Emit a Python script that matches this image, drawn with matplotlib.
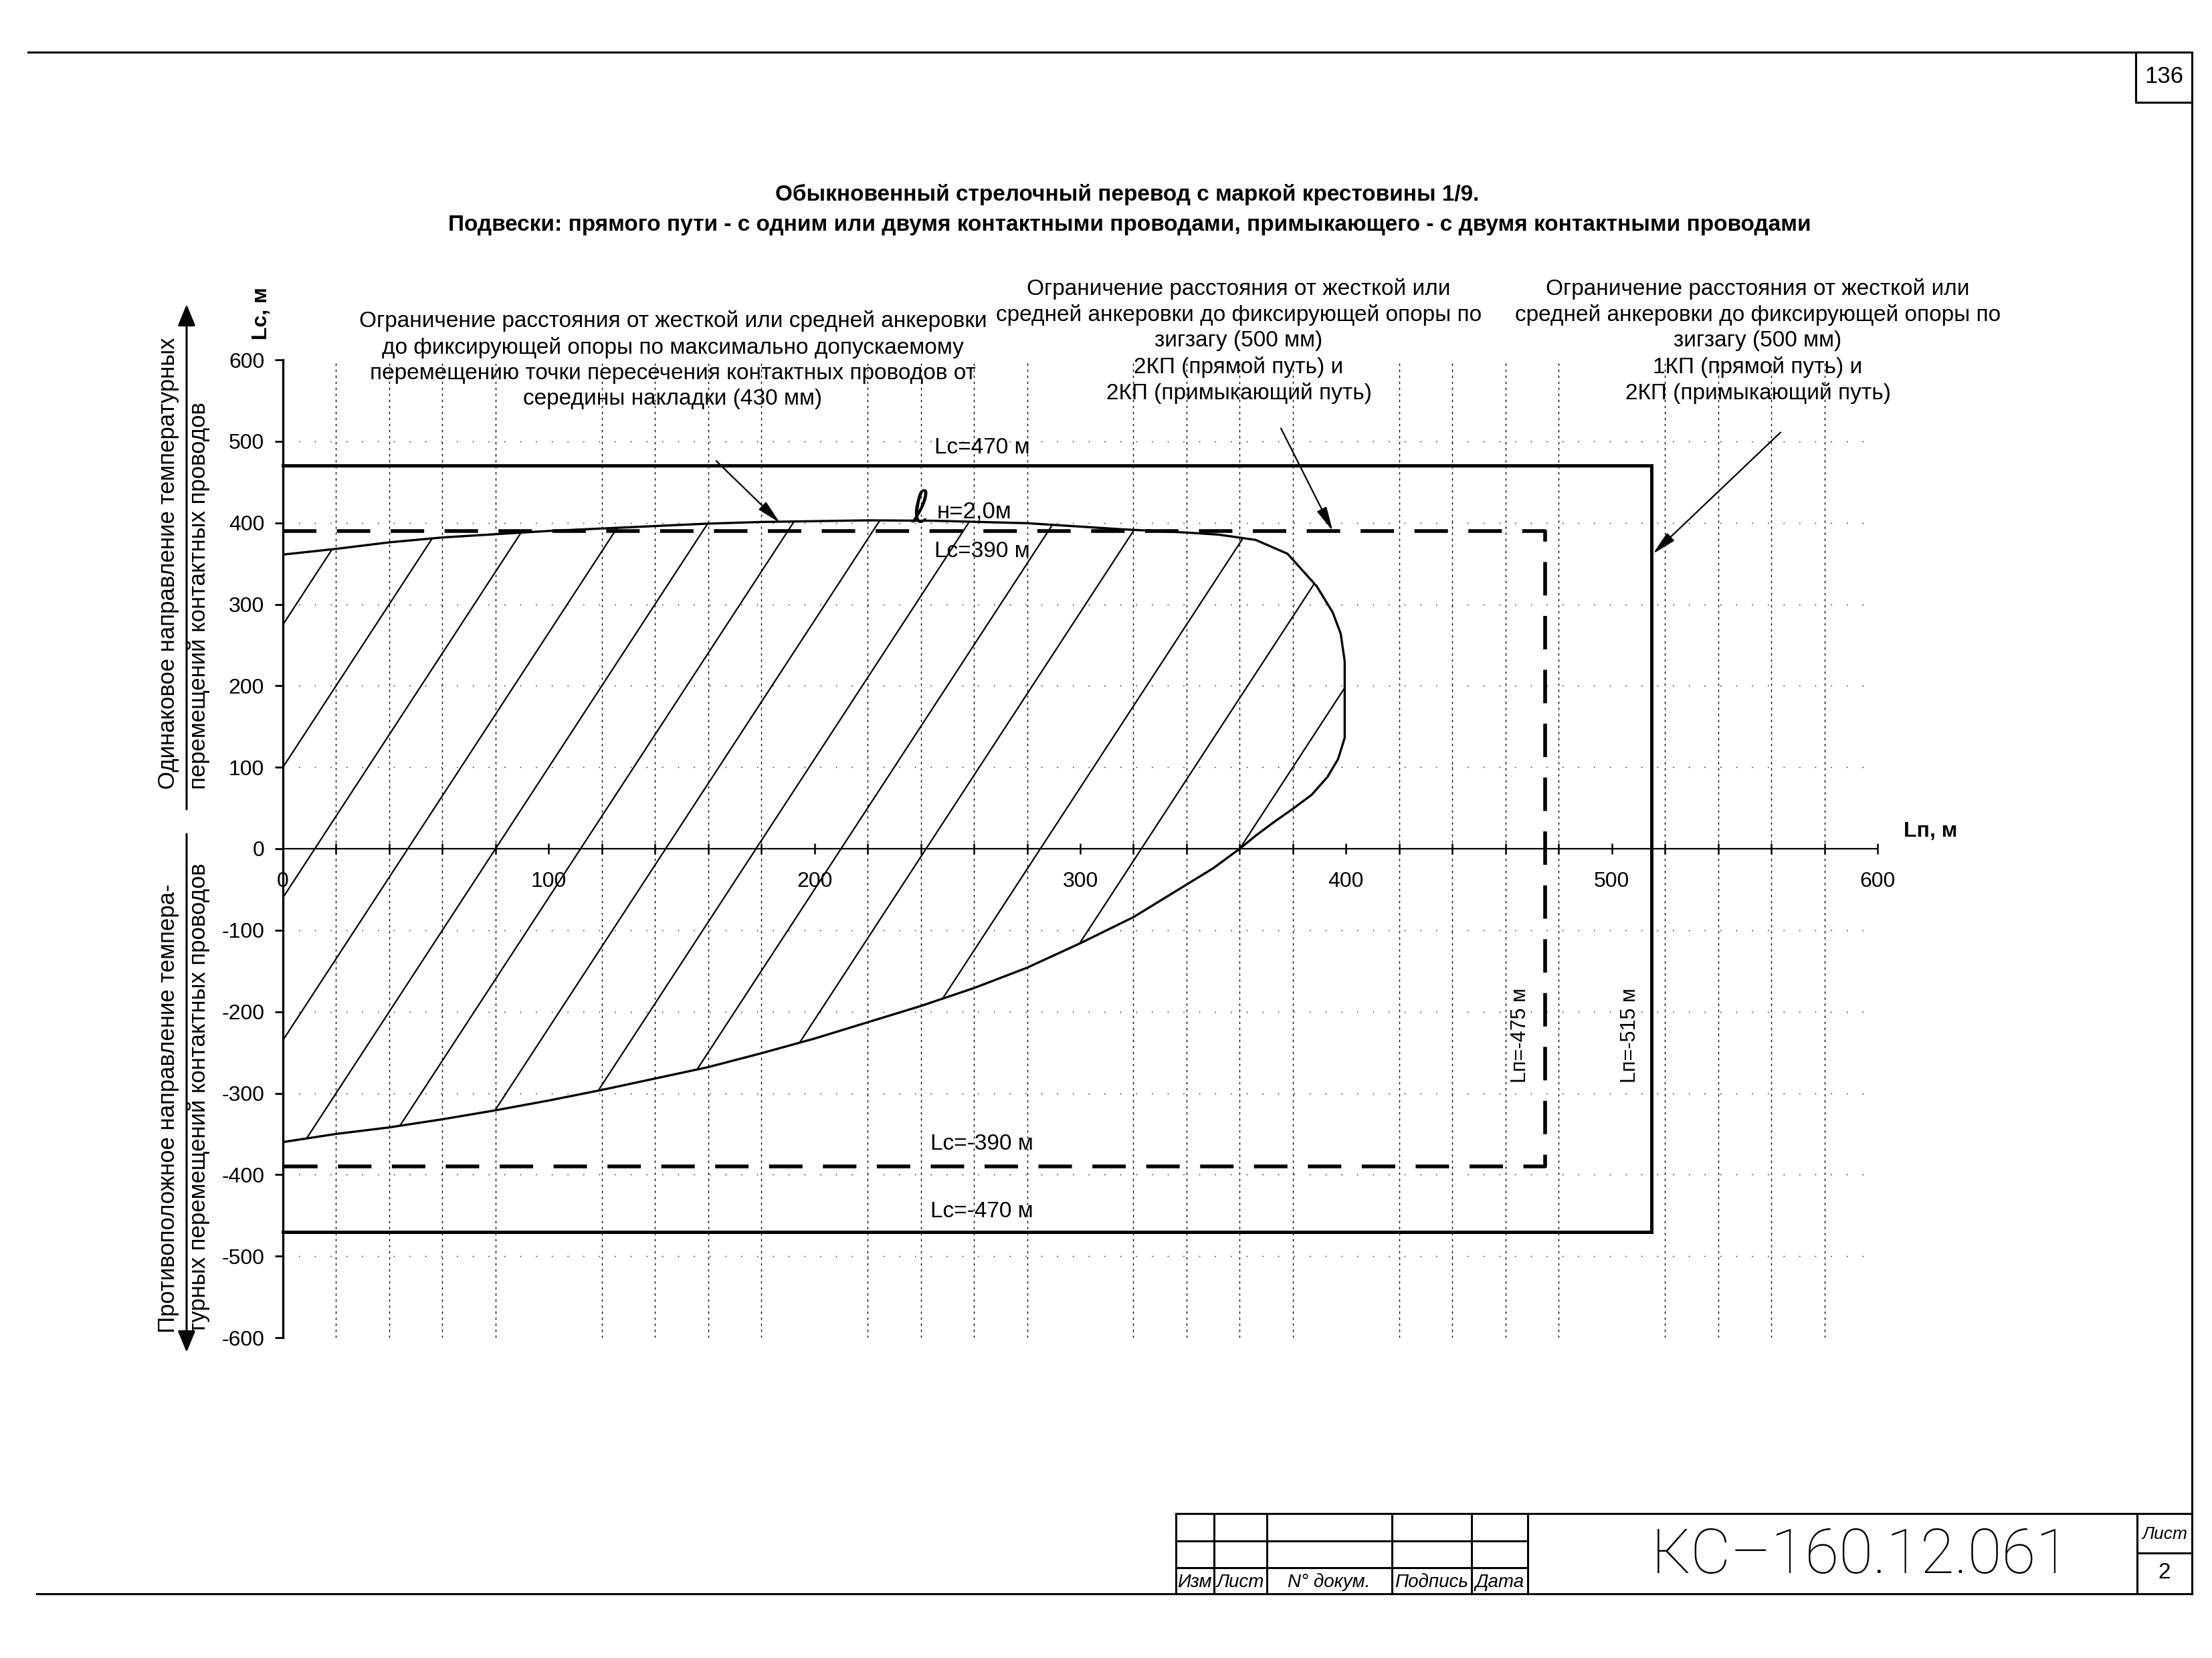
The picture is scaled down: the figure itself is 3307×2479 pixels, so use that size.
import numpy as np
import matplotlib
matplotlib.use("Agg")
import matplotlib.pyplot as plt
from matplotlib.patches import Polygon
from matplotlib.ticker import MultipleLocator, FixedLocator

plt.rcParams["axes.unicode_minus"] = False

NARROW = ["Liberation Sans Narrow", "Liberation Sans", "DejaVu Sans"]
REGULAR = ["Liberation Sans", "DejaVu Sans"]

# allowed zone boundary (Lп, Lc), from the top-left
# corner round the nose and back along the bottom to the Lc axis
zone_lp = [0, 20, 40, 60, 80, 100, 120, 140, 160, 180, 200, 220, 245, 280,
           316, 340, 352, 366, 378, 389, 395, 398, 399.5, 399.5, 397, 393,
           387, 380, 373, 366, 360, 350, 339, 320, 300, 280, 260, 240, 220,
           200, 180, 160, 140, 120, 100, 80, 60, 40, 20, 0]
zone_lc = [361, 368, 376, 382, 386, 390, 393, 396, 399, 401, 402, 403, 402.5,
           399.5, 392, 388, 385.5, 379, 362, 322, 290, 264, 230, 136, 110, 88,
           66, 49, 33, 16, 0, -24, -46, -84, -116, -146, -171, -193, -213,
           -233, -251, -268, -282, -296, -309, -321, -332, -342, -350, -360]

# hatching: Lп where each hatch line crosses Lc = 0, and their slope dLc/dLп
hatch_lp0 = [-55, -20, 12, 47, 80, 112, 144, 178, 210, 242, 285, 323, 360]
hatch_slope = 5.0

# limits (m)
LC_OUTER, LP_OUTER = 470, 515
LC_INNER, LP_INNER = 390, 475

x_ticks = [0, 100, 200, 300, 400, 500, 600]
x_tick_labels = ["0", "100", "200", "300", "400", "500", "600"]
y_ticks = [-600, -500, -400, -300, -200, -100, 0, 100, 200, 300, 400, 500, 600]
y_tick_labels = ["-600", "-500", "-400", "-300", "-200", "-100", "0",
                 "100", "200", "300", "400", "500", "600"]

title_lines = ["Обыкновенный стрелочный перевод с маркой крестовины 1/9.",
               "Подвески: прямого пути - с одним или двумя контактными проводами, "
               "примыкающего - с двумя контактными проводами"]

note_430 = ("Ограничение расстояния от жесткой или средней анкеровки\n"
            "до фиксирующей опоры по максимально допускаемому\n"
            "перемещению точки пересечения контактных проводов от\n"
            "середины накладки (430 мм)")
note_2kp = ("Ограничение расстояния от жесткой или\n"
            "средней анкеровки до фиксирующей опоры по\n"
            "зигзагу (500 мм)\n"
            "2КП (прямой путь) и\n"
            "2КП (примыкающий путь)")
note_1kp = ("Ограничение расстояния от жесткой или\n"
            "средней анкеровки до фиксирующей опоры по\n"
            "зигзагу (500 мм)\n"
            "1КП (прямой путь) и\n"
            "2КП (примыкающий путь)")

stamp_cells = ["Изм", "Лист", "N° докум.", "Подпись", "Дата"]
doc_code = "КС–160.12.061"
page_no = "136"
sheet_no = "2"

W, H = 3307, 2479
fig = plt.figure(figsize=(W / 100, H / 100), dpi=100)

# page layer in pixel coordinates (frame, stamp, free text)
page = fig.add_axes([0, 0, 1, 1])
page.set_xlim(0, W)
page.set_ylim(H, 0)
page.axis("off")

lw_frame = 2.2
page.plot([42, 3277], [78, 78], color="black", lw=lw_frame)
page.plot([3277, 3277], [78, 2383], color="black", lw=lw_frame)
page.plot([3193, 3193, 3277], [78, 153, 153], color="black", lw=lw_frame)
page.plot([55, 3277], [2383, 2383], color="black", lw=lw_frame)
page.plot([1758, 3277], [2263, 2263], color="black", lw=lw_frame)
for yy in (2304, 2344):
    page.plot([1758, 2284], [yy, yy], color="black", lw=lw_frame)
for xx in (1758, 1815, 1894, 2081, 2200, 2284, 3195):
    page.plot([xx, xx], [2263, 2383], color="black", lw=lw_frame)
page.plot([3195, 3277], [2322, 2322], color="black", lw=lw_frame)

cell_cx = [1786, 1854, 1987, 2140, 2242]
for cx, s in zip(cell_cx, stamp_cells):
    page.text(cx, 2366, s, ha="center", va="center", fontsize=20,
              style="italic", family=NARROW)
page.text(2782, 2327, doc_code, ha="center", va="center", fontsize=67,
          family=["Roboto", "DejaVu Sans"], weight="light")
page.text(3236, 2294, "Лист", ha="center", va="center", fontsize=19,
          style="italic", family=NARROW)
page.text(3236, 2352, sheet_no, ha="center", va="center", fontsize=24,
          family=NARROW)
page.text(3235, 115, page_no, ha="center", va="center", fontsize=25,
          family=NARROW)

# titles and notes
page.text(1685, 291, title_lines[0], ha="center", va="center", fontsize=24,
          weight="bold", family=NARROW)
page.text(1689, 337, title_lines[1], ha="center", va="center", fontsize=24,
          weight="bold", family=NARROW)
note = dict(ha="center", va="center", fontsize=24, family=NARROW,
            linespacing=1.3)
page.text(1006, 538, note_430, **note)
page.text(1852, 510, note_2kp, **note)
page.text(2628, 510, note_1kp, **note)

# side labels with direction arrows
side = dict(rotation=90, ha="center", va="bottom", fontsize=25, family=NARROW)
page.text(252, 1180, "Одинаковое направление температурных", **side)
page.text(298, 1180, "перемещений контактных проводов", **side)
page.text(252, 1993, "Противоположное направление темпера-", **side)
page.text(298, 1993, "турных перемещений контактных проводов", **side)
side_arrow = dict(arrowstyle="-|>,head_length=1.1,head_width=0.45",
                  color="black", lw=2.2, mutation_scale=18, shrinkA=0, shrinkB=0)
page.annotate("", xy=(279, 455), xytext=(279, 1210), arrowprops=side_arrow)
page.annotate("", xy=(279, 2022), xytext=(279, 1247), arrowprops=side_arrow)

# main chart
ax = fig.add_axes([423 / W, 479 / H, 2384 / W, 1462 / H])
ax.patch.set_alpha(0)
ax.set_xlim(0, 600)
ax.set_ylim(-600, 600)
for s in ("top", "right"):
    ax.spines[s].set_visible(False)
ax.spines["left"].set_linewidth(2.4)
ax.spines["bottom"].set_position(("data", 0))
ax.spines["bottom"].set_linewidth(1.6)

ax.xaxis.set_major_locator(FixedLocator(x_ticks))
ax.set_xticklabels(x_tick_labels, family=REGULAR, fontsize=23)
ax.xaxis.set_minor_locator(MultipleLocator(20))
ax.tick_params(axis="x", which="both", direction="inout", length=11, width=1.8,
               pad=19)
ax.yaxis.set_major_locator(FixedLocator(y_ticks))
ax.set_yticklabels(y_tick_labels, family=REGULAR, fontsize=23)
ax.tick_params(axis="y", direction="out", length=9, width=2.0, pad=11)

# dotted grid: verticals every 20 m, faint horizontals every 100 m
grid_x = ax.get_xticks(minor=True)
ax.vlines([g for g in grid_x if 0 < g < 600], -600, 600, colors="black",
          linestyles=(0, (2.5, 4)), lw=1.0, zorder=1)
ax.hlines([t for t in y_ticks if abs(t) < 600 and t != 0], 0, 600,
          colors="black", linestyles=(0, (1, 16)), lw=1.0, zorder=1)

# hatched zone
zone = Polygon(np.column_stack([zone_lp, zone_lc]), closed=True,
               facecolor="none", edgecolor="none", transform=ax.transData)
ax.add_patch(zone)
lc_span = np.array([-600, 600])
for x0 in hatch_lp0:
    hl, = ax.plot(x0 + lc_span / hatch_slope, lc_span, color="black", lw=1.6,
                  zorder=3)
    hl.set_clip_path(zone)
ax.plot(zone_lp, zone_lc, color="black", lw=2.4, zorder=4)

# limit lines
ax.plot([0, LP_OUTER, LP_OUTER, 0], [LC_OUTER, LC_OUTER, -LC_OUTER, -LC_OUTER],
        color="black", lw=3.6, zorder=5, solid_joinstyle="miter", clip_on=False)
ax.plot([0, LP_INNER, LP_INNER, 0], [LC_INNER, LC_INNER, -LC_INNER, -LC_INNER],
        color="black", lw=4.0, zorder=5, dashes=(9, 5.5), clip_on=False)

# line labels
lab = dict(ha="center", va="center", fontsize=24, family=NARROW, zorder=6)
ax.text(263, 492, f"Lc={LC_OUTER} м", **lab)
ax.text(263, 365, f"Lc={LC_INNER} м", **lab)
ax.text(263, -362, f"Lc=-{LC_INNER} м", **lab)
ax.text(263, -445, f"Lc=-{LC_OUTER} м", **lab)
ax.text(240, 416, "ℓ", ha="center", va="center", fontsize=48,
        style="italic", family=["DejaVu Sans", "Noto Sans"], zorder=6)
ax.text(246, 414, "н=2,0м", ha="left", va="center", fontsize=25,
        family=NARROW, zorder=6)
ax.text(465.5, -229, f"Lп=-{LP_INNER} м", rotation=90, ha="center",
        va="center", fontsize=22, family=REGULAR, zorder=6)
ax.text(507, -229, f"Lп=-{LP_OUTER} м", rotation=90, ha="center",
        va="center", fontsize=22, family=REGULAR, zorder=6)

ax.text(620, 21, "Lп, м", ha="center", va="center", fontsize=23,
        weight="bold", family=REGULAR, clip_on=False)
ax.text(-8, 657, "Lc, м", rotation=90, ha="center", va="center", fontsize=23,
        weight="bold", family=REGULAR, clip_on=False)

# leader arrows from the notes
lead = dict(arrowstyle="-|>,head_length=1.0,head_width=0.22", color="black",
            lw=1.6, mutation_scale=22, shrinkA=0, shrinkB=0)
ax.annotate("", xy=(187, 400), xytext=(163, 476), arrowprops=lead,
            annotation_clip=False)
ax.annotate("", xy=(395, 390), xytext=(375.5, 516), arrowprops=lead,
            annotation_clip=False)
ax.annotate("", xy=(515.5, 362), xytext=(563.5, 511), arrowprops=lead,
            annotation_clip=False)

fig.savefig("out.png", dpi=100, facecolor="white")
